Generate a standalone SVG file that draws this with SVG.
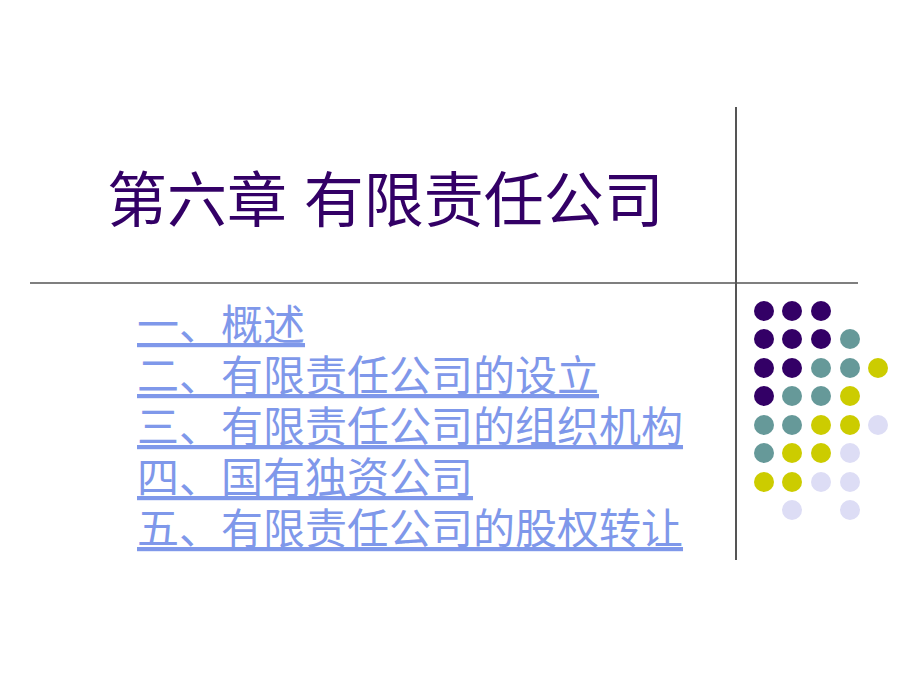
<svg xmlns="http://www.w3.org/2000/svg" width="920" height="690" viewBox="0 0 920 690">
<style>
.t{font-family:"Liberation Sans","Noto Sans CJK SC",sans-serif}
.l{font-size:42px;fill:#7f98ea;text-decoration:underline}
.p{fill:#330066}.g{fill:#669999}.y{fill:#cccc00}.w{fill:#ddddf5}
</style>
<rect width="920" height="690" fill="#fff"/>
<line x1="736" y1="107" x2="736" y2="560" stroke="#555" stroke-width="2"/>
<line x1="30" y1="283" x2="858" y2="283" stroke="#555" stroke-width="1.5"/>
<text class="t" x="107" y="222" font-size="60" fill="#330066">第六章  有限责任公司</text>
<g class="t l">
<text x="137" y="340">一、概述</text>
<text x="137" y="391">二、有限责任公司的设立</text>
<text x="137" y="442">三、有限责任公司的组织机构</text>
<text x="137" y="493">四、国有独资公司</text>
<text x="137" y="544">五、有限责任公司的股权转让</text>
</g>
<g id="dots">
<circle class="p" cx="764" cy="311" r="10"/><circle class="p" cx="792" cy="311" r="10"/><circle class="p" cx="821" cy="311" r="10"/>
<circle class="p" cx="764" cy="339" r="10"/><circle class="p" cx="792" cy="339" r="10"/><circle class="p" cx="821" cy="339" r="10"/><circle class="g" cx="850" cy="339" r="10"/>
<circle class="p" cx="764" cy="368" r="10"/><circle class="p" cx="792" cy="368" r="10"/><circle class="g" cx="821" cy="368" r="10"/><circle class="g" cx="850" cy="368" r="10"/><circle class="y" cx="878" cy="368" r="10"/>
<circle class="p" cx="764" cy="396" r="10"/><circle class="g" cx="792" cy="396" r="10"/><circle class="g" cx="821" cy="396" r="10"/><circle class="y" cx="850" cy="396" r="10"/>
<circle class="g" cx="764" cy="425" r="10"/><circle class="g" cx="792" cy="425" r="10"/><circle class="y" cx="821" cy="425" r="10"/><circle class="y" cx="850" cy="425" r="10"/><circle class="w" cx="878" cy="425" r="10"/>
<circle class="g" cx="764" cy="453" r="10"/><circle class="y" cx="792" cy="453" r="10"/><circle class="y" cx="821" cy="453" r="10"/><circle class="w" cx="850" cy="453" r="10"/>
<circle class="y" cx="764" cy="482" r="10"/><circle class="y" cx="792" cy="482" r="10"/><circle class="w" cx="821" cy="482" r="10"/><circle class="w" cx="850" cy="482" r="10"/>
<circle class="w" cx="792" cy="510" r="10"/><circle class="w" cx="850" cy="510" r="10"/>
</g>
</svg>
